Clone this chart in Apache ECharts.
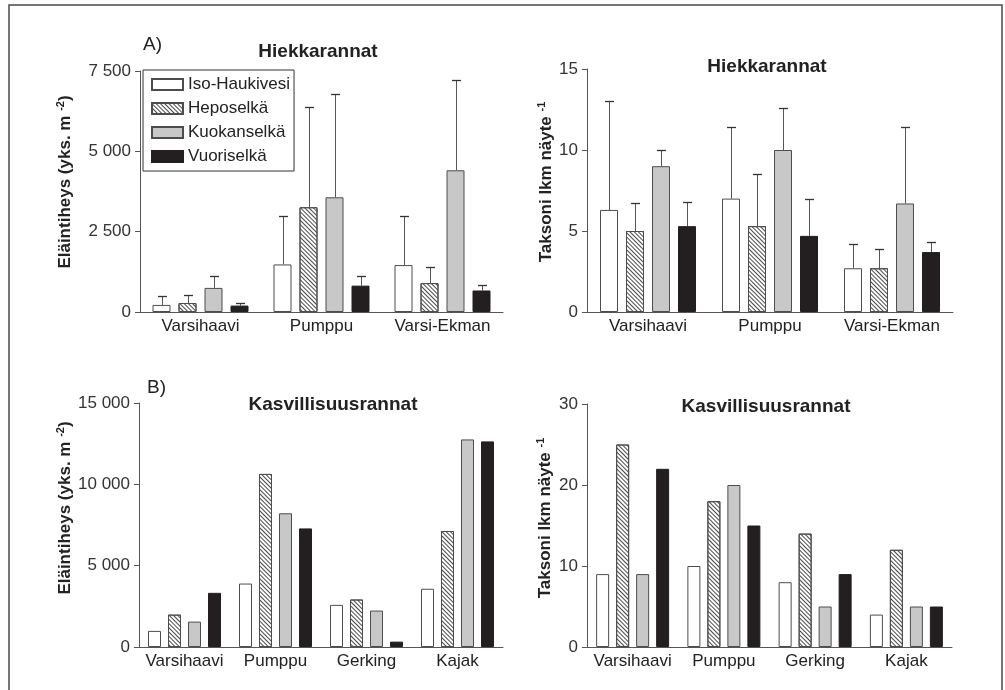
<!DOCTYPE html>
<html>
<head>
<meta charset="utf-8">
<script src="https://cdn.jsdelivr.net/npm/echarts@6/dist/echarts.min.js"></script>
<style>
html,body{margin:0;padding:0;background:#fff;}
#chart{width:1005px;height:690px;}
</style>
</head>
<body>
<div id="chart"></div>
<script>
// ---- data ----
const lakes = ['Iso-Haukivesi', 'Heposelkä', 'Kuokanselkä', 'Vuoriselkä'];
const sandMethods = ['Varsihaavi', 'Pumppu', 'Varsi-Ekman'];
const vegMethods = ['Varsihaavi', 'Pumppu', 'Gerking', 'Kajak'];
// rows: lakes, columns: methods
const sandDensity = [[220, 1480, 1460], [280, 3260, 900], [750, 3570, 4410], [200, 820, 670]];
const sandDensityUpper = [[490, 2990, 2980], [530, 6380, 1390], [1110, 6780, 7210], [270, 1130, 830]];
const sandTaxa = [[6.3, 7.0, 2.7], [5.0, 5.3, 2.7], [9.0, 10.0, 6.7], [5.3, 4.7, 3.7]];
const sandTaxaUpper = [[13.0, 11.4, 4.2], [6.7, 8.5, 3.9], [10.0, 12.6, 11.4], [6.8, 7.0, 4.3]];
const vegDensity = [[990, 3900, 2590, 3580], [1990, 10640, 2920, 7130], [1560, 8220, 2240, 12760], [3330, 7290, 330, 12640]];
const vegTaxa = [[9, 10, 8, 4], [25, 18, 14, 12], [9, 20, 5, 5], [22, 15, 9, 5]];
const densityTitle = 'Eläintiheys (yks. m';
const taxaTitle = 'Taksoni lkm näyte';
const panelTitles = ['Hiekkarannat', 'Hiekkarannat', 'Kasvillisuusrannat', 'Kasvillisuusrannat'];

// ---- styles ----
const FONT = 'Liberation Sans, Arial, sans-serif';
const lakeStyles = [
  { color: '#ffffff', borderColor: '#4d4d4d', borderWidth: 1 },
  { color: '#ffffff', borderColor: '#4d4d4d', borderWidth: 1,
    decal: { symbol: 'rect', symbolSize: 1, dashArrayX: [1, 0], dashArrayY: [1, 2], rotation: Math.PI / 4, color: '#4a4a4a' } },
  { color: '#c8c8c8', borderColor: '#4d4d4d', borderWidth: 1 },
  { color: '#231f20', borderColor: '#231f20', borderWidth: 1 }
];
const grids = [
  { left: 140, top: 71, width: 363, height: 241 },
  { left: 587, top: 69, width: 366, height: 243 },
  { left: 139, top: 403, width: 364, height: 244 },
  { left: 587, top: 404, width: 365, height: 243 }
];
const barW = [18, 18, 13, 13];
const barGapPx = [8, 8, 7, 7];

function fmt(v) { return String(v).replace(/\B(?=(\d{3})+(?!\d))/g, ' '); }

const xAxes = [sandMethods, sandMethods, vegMethods, vegMethods].map((cats, i) => ({
  type: 'category', gridIndex: i, data: cats,
  axisTick: { show: false },
  axisLine: { lineStyle: { color: '#555', width: 1 } },
  axisLabel: { interval: 0, margin: 6, fontSize: 17, color: '#222', fontFamily: FONT, hideOverlap: false }
}));
const yRanges = [[7500, 2500], [15, 5], [15000, 5000], [30, 10]];
const yAxes = yRanges.map((r, i) => ({
  type: 'value', gridIndex: i, min: 0, max: r[0], interval: r[1],
  splitLine: { show: false },
  axisLine: { show: true, lineStyle: { color: '#555', width: 1 } },
  axisTick: { show: true, length: 5, lineStyle: { color: '#555' } },
  axisLabel: { margin: 9, fontSize: 17, color: '#333', fontFamily: FONT, formatter: fmt, showMaxLabel: true, showMinLabel: true }
}));

const panelData = [sandDensity, sandTaxa, vegDensity, vegTaxa];
const panelUpper = [sandDensityUpper, sandTaxaUpper, null, null];
const series = [];
panelData.forEach((pd, gi) => {
  pd.forEach((vals, k) => {
    series.push({
      type: 'bar', name: lakes[k], xAxisIndex: gi, yAxisIndex: gi,
      data: vals, barWidth: barW[gi], barGap: (barGapPx[gi] / barW[gi] * 100) + '%',
      itemStyle: lakeStyles[k], emphasis: { disabled: true }, animation: false, z: 2
    });
  });
  const up = panelUpper[gi];
  if (up) {
    pd.forEach((vals, k) => {
      series.push({
        type: 'custom', xAxisIndex: gi, yAxisIndex: gi, animation: false, z: 1,
        data: vals.map((v, c) => [c, v, up[k][c]]),
        renderItem: function (params, api) {
          const c = api.value(0);
          const p0 = api.coord([c, api.value(1)]);
          const p1 = api.coord([c, api.value(2)]);
          const x = Math.round(p0[0] + (k - 1.5) * (barW[gi] + barGapPx[gi])) + 0.5;
          const yt = Math.round(p1[1]) + 0.5;
          return {
            type: 'group', children: [
              { type: 'line', shape: { x1: x, y1: p0[1], x2: x, y2: yt }, style: { stroke: '#555', lineWidth: 1 } },
              { type: 'line', shape: { x1: x - 4.5, y1: yt, x2: x + 4.5, y2: yt }, style: { stroke: '#333', lineWidth: 1.3 } }
            ]
          };
        }
      });
    });
  }
});

function axisName(x, y, main, sup) {
  return {
    type: 'text', x: x, y: y, rotation: Math.PI / 2,
    style: {
      text: '{a|' + main + '}{s|' + sup + '}' + (sup === '-2' ? '{a|)}' : ''),
      textAlign: 'center', textVerticalAlign: 'middle',
      rich: {
        a: { fontSize: 17, fontWeight: 'bold', fontFamily: FONT, fill: '#222', lineHeight: 20 },
        s: { fontSize: 11, fontWeight: 'bold', fontFamily: FONT, fill: '#222', verticalAlign: 'top', lineHeight: 20, padding: [0, 0, 9, 0] }
      }
    }
  };
}
const titlePos = [[318, 52], [767, 67], [333, 405], [766, 407]];
const graphics = [
  { type: 'rect', shape: { x: 9, y: 5, width: 993, height: 720 }, style: { fill: 'none', stroke: '#4a4a4a', lineWidth: 1.5 } },
  { type: 'text', x: 143, y: 45, style: { text: 'A)', fontSize: 19, fontFamily: FONT, fill: '#222', textVerticalAlign: 'middle' } },
  { type: 'text', x: 147, y: 388, style: { text: 'B)', fontSize: 19, fontFamily: FONT, fill: '#222', textVerticalAlign: 'middle' } },
  axisName(65, 182, densityTitle + ' ', '-2'),
  axisName(546, 182, taxaTitle + ' ', '-1'),
  axisName(65, 508, densityTitle + ' ', '-2'),
  axisName(545, 518, taxaTitle + ' ', '-1')
];
panelTitles.forEach((t, i) => {
  graphics.push({ type: 'text', x: titlePos[i][0], y: titlePos[i][1],
    style: { text: t, fontSize: 19, fontWeight: 'bold', fontFamily: FONT, fill: '#222', textAlign: 'center', textVerticalAlign: 'middle' } });
});

const option = {
  backgroundColor: '#fff',
  animation: false,
  grid: grids,
  xAxis: xAxes,
  yAxis: yAxes,
  legend: {
    data: lakes, orient: 'vertical', left: 143, top: 70,
    padding: [6, 4, 6, 8], itemGap: 7, itemWidth: 31, itemHeight: 11,
    borderColor: '#333', borderWidth: 1, icon: 'rect', selectedMode: false,
    textStyle: { fontSize: 17, lineHeight: 17, color: '#222', fontFamily: FONT }
  },
  series: series,
  graphic: graphics
};
const chart = echarts.init(document.getElementById('chart'), null, { renderer: 'canvas' });
chart.setOption(option);
</script>
</body>
</html>
